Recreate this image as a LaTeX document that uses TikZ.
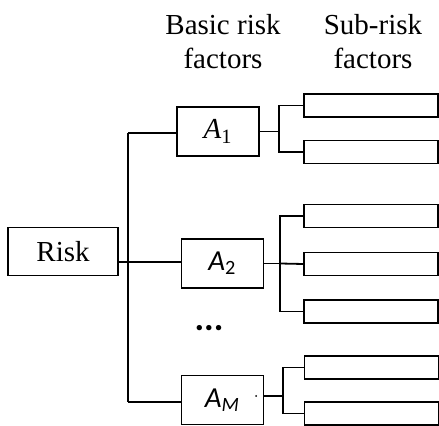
\documentclass[tikz,border=0pt]{standalone}
\usepackage{fontspec}
\setmainfont{Liberation Serif}
\newfontfamily\calfont{Carlito}
\tikzset{
  riskbox/.style={draw, line width=0.9pt, minimum width=55pt, minimum height=24pt, inner sep=0pt, font=\fontsize{14.5}{17}\selectfont},
  factorbox/.style={draw, line width=0.9pt, minimum width=41pt, minimum height=24.5pt, inner sep=0pt, font=\fontsize{14.5}{16}\selectfont},
  subbox/.style={draw, line width=0.9pt, minimum width=67pt, minimum height=11.5pt, inner sep=0pt},
  heading/.style={align=center, inner sep=0pt, font=\fontsize{14.5}{17}\selectfont},
  link/.style={line width=0.9pt}
}
\begin{document}
\begin{tikzpicture}[x=0.5pt, y=-0.5pt]
        \useasboundingbox (0,0) rectangle (439,426);

        % headings
        \node[heading] (hbasic) at (223,42) {Basic risk\\factors};
        \node[heading] (hsub) at (373,42) {Sub-risk\\factors};

        % boxes
        \node[riskbox] (risk) at (63,251.5) {Risk};
        \node[factorbox] (a1) at (218,131.5) {{\itshape A}\textsubscript{1}};
        \node[factorbox] (a2) at (222.5,263.5) {\calfont{\itshape A}\textsubscript{2}};
        \node[factorbox] (am) at (222.5,400) {\calfont{\itshape A}\textsubscript{\itshape M}};
        \node[font=\calfont\bfseries\fontsize{18}{18}\selectfont, inner sep=0pt] (dots) at (209,328) {...};

        \node[subbox] (s11) at (371,105.5) {};
        \node[subbox] (s12) at (371,152) {};
        \node[subbox] (s21) at (371,216) {};
        \node[subbox] (s22) at (371,264) {};
        \node[subbox] (s23) at (371,311.5) {};
        \node[subbox] (sm1) at (371.5,367.5) {};
        \node[subbox] (sm2) at (371.5,413.5) {};

        % trunk
        \coordinate (t1) at (128,133);
        \coordinate (t2) at (128,262);
        \coordinate (tm) at (128,402);
        \coordinate (b1) at (279,131.5);
        \coordinate (b2) at (280,263.5);
        \coordinate (bm) at (283,396);

        \draw[link] (t1) -- (tm);
        \draw[link] (risk.east |- t2) -- (t2) -- (t2 -| a2.west);
        \draw[link] (t1) -- (t1 -| a1.west);
        \draw[link] (tm) -- (tm -| am.west);

        % brackets
        \draw[link] (a1.east) -- (b1);
        \draw[link] (s11.west) -| (b1) |- (s12.west);
        \draw[link] (a2.east) -- (b2);
        \draw[link] (s21.west) -| (b2) |- (s23.west);
        \draw[link] (b2) -- (s22.west);
        \draw[link] (am.east |- bm) -- (bm);
        \draw[link] (sm1.west) -| (bm) |- (sm2.west);
        \fill (256,396) circle (0.5pt);
\end{tikzpicture}
\end{document}
